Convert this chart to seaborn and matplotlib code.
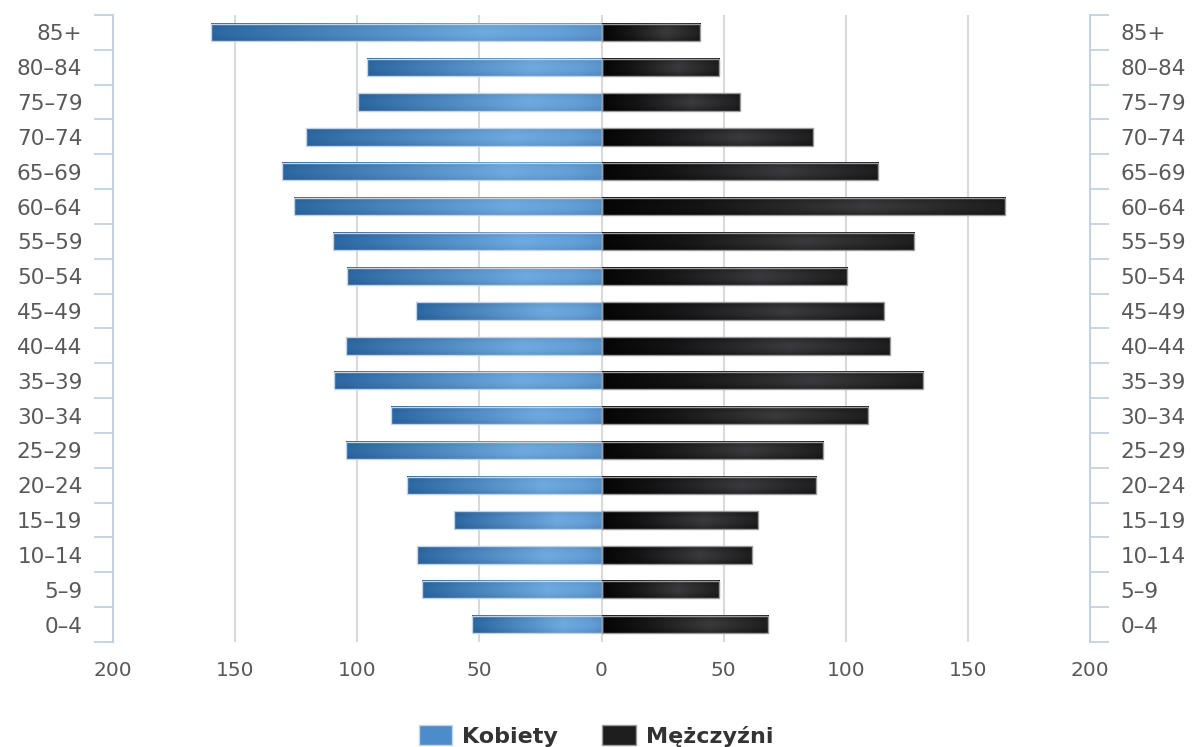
import numpy as np
import pandas as pd
import matplotlib
matplotlib.use("Agg")
import matplotlib.pyplot as plt
import seaborn as sns
from matplotlib.patches import Patch
from matplotlib.colors import to_rgb

# ---- data ----
age_groups = ["85+", "80-84", "75-79", "70-74", "65-69", "60-64", "55-59", "50-54",
              "45-49", "40-44", "35-39", "30-34", "25-29", "20-24", "15-19",
              "10-14", "5-9", "0-4"]
kobiety = [160, 96, 99.5, 121, 131, 126, 110, 104, 76, 104.5, 109.5, 86, 104.5,
           79.5, 60.5, 75.5, 73.5, 53]
mezczyzni = [40.5, 48, 56.5, 86.5, 113, 165, 128, 100.5, 115.5, 118, 131.5, 109,
             90.5, 88, 64, 61.5, 48, 68]
x_ticks = [-200, -150, -100, -50, 0, 50, 100, 150, 200]
series_names = ["Kobiety", "Mężczyźni"]

labels_disp = [a.replace("-", "\u2013") for a in age_groups]

df = pd.DataFrame({
    "age": age_groups * 2,
    "value": [-v for v in kobiety] + list(mezczyzni),
    "sex": [series_names[0]] * len(age_groups) + [series_names[1]] * len(age_groups),
})

sns.set_theme(style="white")
plt.rcParams["font.family"] = ["DejaVu Sans"]

fig = plt.figure(figsize=(11.92, 7.47), dpi=100)
ax = fig.add_axes([113 / 1192, 1 - 642 / 747, (1090 - 113) / 1192, (642 - 15) / 747])

blue_mid = "#4d8ccb"
black_mid = "#1e1e20"
sns.barplot(data=df, x="value", y="age", hue="sex", order=age_groups,
            hue_order=series_names, palette=[blue_mid, black_mid],
            dodge=False, width=0.5, orient="h", legend=False, ax=ax, zorder=3)

ax.set_xlim(-200, 200)
ax.set_ylim(len(age_groups) - 0.5, -0.5)

# gradient fills
def blue_grad(n=200, m=40):
    t = np.linspace(0, 1, n)  # 0 = outer end, 1 = center
    stops_t = [0, 0.7, 0.9, 1.0]
    cols = np.array([to_rgb("#2c67a2"), to_rgb("#6eaae0"), to_rgb("#64a0d8"), to_rgb("#5a94cc")])
    base = np.stack([np.interp(t, stops_t, cols[:, k]) for k in range(3)], axis=1)
    s = np.linspace(-1, 1, m)
    shade = 1 - 0.10 * s ** 2
    img = base[None, :, :] * shade[:, None, None]
    return np.clip(img, 0, 1)

def black_grad(n=200, m=40):
    t = np.linspace(0, 1, n)  # 0 = center(zero), 1 = outer end
    stops_t = [0, 0.25, 0.65, 1.0]
    cols = np.array([to_rgb("#050505"), to_rgb("#151517"), to_rgb("#3a3a3e"), to_rgb("#1e1e20")])
    base = np.stack([np.interp(t, stops_t, cols[:, k]) for k in range(3)], axis=1)
    s = np.linspace(-1, 1, m)
    shade = 1 - 0.35 * s ** 2
    img = base[None, :, :] * shade[:, None, None]
    return np.clip(img, 0, 1)

bimg = blue_grad()
kimg = black_grad()
for p in list(ax.patches):
    x0, y0 = p.get_x(), p.get_y()
    w, h = p.get_width(), p.get_height()
    if w == 0:
        continue
    xa, xb = min(x0, x0 + w), max(x0, x0 + w)
    if xa < 0:  # women: from left end (outer) to zero
        img = bimg
        ec = "#c2d4e6"
    else:
        img = kimg
        ec = "#9a9a9a"
    ax.imshow(img, extent=(xa, xb, y0 + h, y0), aspect="auto",
              interpolation="bilinear", zorder=2.5)
    p.set_facecolor("none")
    p.set_edgecolor(ec)
    p.set_linewidth(1.0)
    p.set_zorder(3)

ax.set_xlim(-200, 200)
ax.set_ylim(len(age_groups) - 0.5, -0.5)

# grid lines
for xv in x_ticks[1:-1]:
    ax.axvline(xv, color="#d9d9d9", lw=1.5, zorder=1)

axis_col = "#c3d1e0"
label_col = "#595959"

ax.set_xticks(x_ticks)
ax.set_xticklabels([str(abs(v)) for v in x_ticks], color=label_col, fontsize=14.5)
ax.tick_params(axis="x", length=0, pad=14)
ax.set_xlabel("")
ax.set_ylabel("")

for sp in ["top", "bottom", "left", "right"]:
    ax.spines[sp].set_visible(False)

def style_cat_axis(a, side):
    a.set_ylim(len(age_groups) - 0.5, -0.5)
    a.set_yticks(range(len(age_groups)))
    a.set_yticklabels(labels_disp, color=label_col, fontsize=15.5)
    a.set_yticks(np.arange(-0.5, len(age_groups)), minor=True)
    a.tick_params(axis="y", which="major", length=0, pad=22)
    a.tick_params(axis="y", which="minor", length=14, width=1.3, color=axis_col)
    a.spines[side].set_visible(True)
    a.spines[side].set_color(axis_col)
    a.spines[side].set_linewidth(1.5)

style_cat_axis(ax, "left")
ax.yaxis.set_ticks_position("left")

ax2 = ax.twinx()
for sp in ["top", "bottom", "left", "right"]:
    ax2.spines[sp].set_visible(False)
style_cat_axis(ax2, "right")
ax2.yaxis.set_ticks_position("right")
ax2.set_ylabel("")

handles = [Patch(facecolor=blue_mid, edgecolor="#c2d4e6"),
           Patch(facecolor=black_mid, edgecolor="#9a9a9a")]
leg = fig.legend(handles, series_names, loc="center", bbox_to_anchor=(0.5, 1 - 736 / 747),
                 ncol=2, frameon=False, handlelength=1.5, handleheight=1.0,
                 handletextpad=0.45, columnspacing=2.0,
                 prop={"size": 16, "weight": "bold"})
for t in leg.get_texts():
    t.set_color("#333333")

fig.savefig("out.png", dpi=100, facecolor="white")
